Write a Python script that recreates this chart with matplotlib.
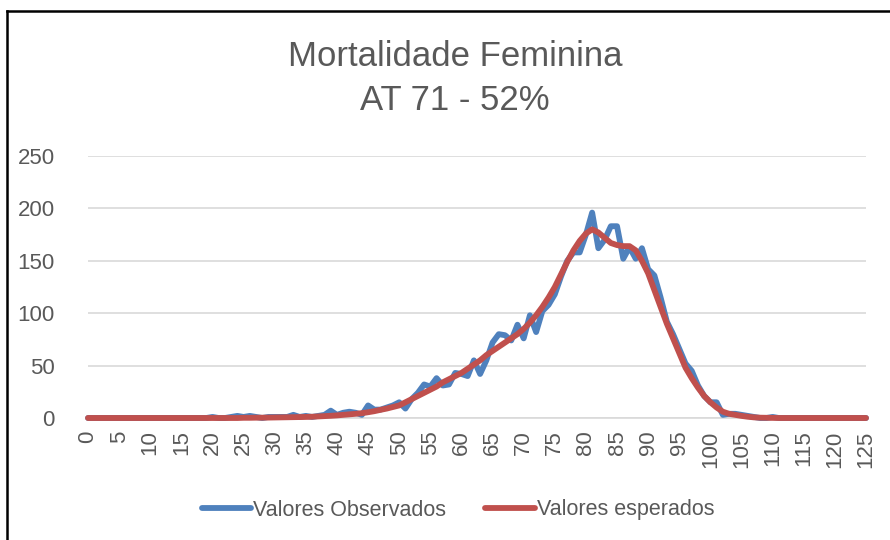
import matplotlib
matplotlib.use("Agg")
import matplotlib.pyplot as plt
from matplotlib.lines import Line2D

ages = list(range(0, 126))

observados = [0]*20 + [
    1, 0, 0, 1, 2, 1, 2, 1, 0, 1,      # 20-29
    1, 1, 1, 3, 1, 2, 1, 2, 3, 7,      # 30-39
    3, 5, 6, 5, 3, 12, 8, 8, 10, 12,   # 40-49
    15, 9, 18, 24, 32, 30, 38, 31, 32, 43,   # 50-59
    42, 40, 55, 42, 55, 72, 80, 79, 74, 89,  # 60-69
    76, 98, 82, 102, 108, 118, 135, 150, 158, 158,  # 70-79
    175, 196, 162, 170, 183, 183, 152, 163, 152, 162,  # 80-89
    142, 136, 115, 92, 80, 66, 52, 45, 31, 21,  # 90-99
    15, 15, 3, 4, 4, 3, 2, 1, 0, 0,    # 100-109
    1] + [0]*15

esperados = [0]*25 + [
    0.2, 0.2, 0.3, 0.3, 0.4,           # 25-29
    0.5, 0.6, 0.7, 0.8, 0.9, 1.0, 1.2, 1.5, 1.8, 2.1,   # 30-39
    2.5, 3.0, 3.5, 4.0, 4.6, 5.5, 6.5, 7.8, 9, 10.5,    # 40-49
    12, 15, 18, 21, 24, 27, 30, 34, 37, 40,             # 50-59
    43, 47, 51, 55, 60, 64, 68, 72, 76, 80,             # 60-69
    85, 91, 98, 106, 115, 125, 137, 149, 160, 169,      # 70-79
    176, 180, 177, 172, 167, 165, 164, 164, 160, 150,   # 80-89
    138, 122, 106, 90, 76, 62, 48, 38, 29, 21,          # 90-99
    15, 10, 6, 4, 3, 2, 1.2, 0.6, 0.3, 0.2,             # 100-109
    0.1] + [0]*15

xtick_labels = [str(v) for v in range(0, 126, 5)]
yticks = [0, 50, 100, 150, 200, 250]

title_line1 = "Mortalidade Feminina"
title_line2 = "AT 71 - 52%"
label_obs = "Valores Observados"
label_esp = "Valores esperados"

plt.rcParams['font.family'] = ['Liberation Sans', 'DejaVu Sans']

grey = '#595959'
fig = plt.figure(figsize=(8.9, 5.4), dpi=100)
ax = fig.add_axes([88/890, 1-418/540, (866-88)/890, (418-156)/540])

ax.plot(ages, observados, color='#4F81BD', lw=4.2, solid_joinstyle='round',
        solid_capstyle='round', clip_on=False, label=label_obs, zorder=3)
ax.plot(ages, esperados, color='#C0504D', lw=4.2, solid_joinstyle='round',
        solid_capstyle='round', clip_on=False, label=label_esp, zorder=4)

ax.set_xlim(0, 125)
ax.set_ylim(0, 250)
ax.set_yticks(yticks)
ax.set_yticklabels([str(v) for v in yticks])
ax.set_xticks(list(range(0, 126, 5)))
ax.set_xticklabels(xtick_labels, rotation=90)
ax.grid(axis='y', color='#D9D9D9', lw=1.2)
ax.set_axisbelow(True)
for s in ['top', 'right', 'left']:
    ax.spines[s].set_visible(False)
ax.spines['bottom'].set_color('#D9D9D9')
ax.spines['bottom'].set_linewidth(1.2)
ax.tick_params(axis='both', length=0, colors=grey, labelsize=16)
ax.tick_params(axis='y', pad=24)
ax.tick_params(axis='x', pad=9)

fig.text(455/890, 1-57/540, title_line1, ha='center', va='center',
         fontsize=25, color=grey)
fig.text(455/890, 1-101/540, title_line2, ha='center', va='center',
         fontsize=25, color=grey)

fig.legend(loc='center', bbox_to_anchor=(458/890, 1-510/540), ncol=2, frameon=False,
           fontsize=15.5, handlelength=2.3, handletextpad=0.1, columnspacing=1.8,
           labelcolor=grey)

# chart frame (left and top edges)
fig.add_artist(Line2D([7/890, 7/890], [0, 1-11/540], transform=fig.transFigure,
                      color='black', lw=1.8))
fig.add_artist(Line2D([7/890, 1], [1-11/540, 1-11/540], transform=fig.transFigure,
                      color='black', lw=1.8))

fig.savefig('out.png', dpi=100)
